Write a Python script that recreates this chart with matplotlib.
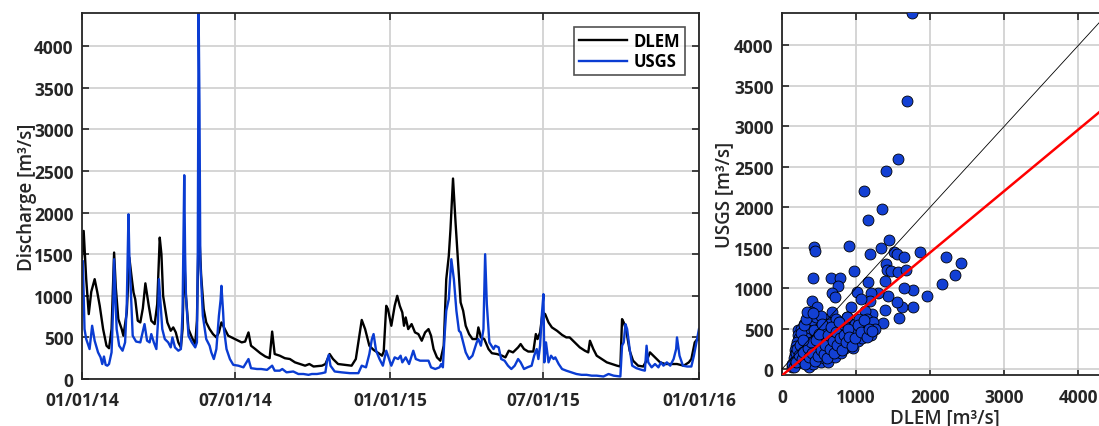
"""Daily discharge: DLEM model vs USGS gauge, time series and scatter."""

import matplotlib
matplotlib.use('Agg')
import matplotlib.pyplot as plt
import matplotlib.dates as mdates
import pandas as pd

plt.rcParams['font.family'] = ['Open Sans', 'DejaVu Sans']

START = pd.Timestamp('2014-01-01')

# DLEM simulated discharge [m3/s], days since 2014-01-01
dlem_day = [0, 2, 5, 8, 11, 15, 18, 21, 25, 29, 32, 35, 38, 40, 43, 47, 49, 53, 56, 59,
            61, 63, 66, 69, 72, 75, 79, 82, 86, 89, 92, 94, 96, 101, 105, 108, 111, 114, 117, 119,
            121, 123, 126, 130, 134, 136, 138, 139, 141, 144, 147, 151, 155, 159, 162, 165, 169, 173, 179, 183,
            189, 193, 197, 200, 205, 211, 217, 222, 225, 228, 234, 240, 246, 252, 258, 264, 269, 274, 284, 288,
            293, 297, 303, 311, 319, 324, 331, 335, 340, 345, 351, 355, 357, 360, 362, 366, 370, 373, 376, 379,
            381, 383, 386, 390, 394, 398, 402, 406, 410, 413, 416, 420, 424, 428, 431, 434, 436, 439, 442, 445,
            448, 451, 454, 458, 462, 467, 469, 472, 476, 481, 485, 491, 497, 501, 505, 510, 516, 519, 523, 528,
            534, 537, 539, 542, 545, 548, 552, 556, 562, 568, 573, 577, 583, 589, 595, 599, 601, 605, 609, 615,
            621, 627, 633, 637, 639, 641, 644, 648, 652, 658, 664, 669, 672, 676, 680, 684, 690, 698, 704, 712,
            718, 721, 725, 728, 730]
dlem_q = [1450, 1780, 1200, 780, 1050, 1200, 1050, 880, 600, 400, 370, 600, 1520, 1100, 720, 600, 520, 800, 1460, 1200,
          1040, 960, 700, 680, 850, 1150, 880, 700, 660, 900, 1700, 1500, 1000, 680, 580, 620, 560, 440, 380, 600,
          1450, 1000, 600, 500, 420, 700, 1800, 1700, 1240, 840, 680, 600, 540, 500, 560, 680, 600, 520, 490, 470,
          440, 450, 560, 400, 360, 310, 270, 250, 570, 300, 280, 250, 240, 200, 180, 160, 180, 150, 160, 180,
          300, 240, 180, 170, 160, 240, 710, 600, 400, 350, 310, 280, 330, 880, 840, 640, 880, 1000, 880, 800,
          640, 740, 600, 660, 560, 540, 460, 560, 600, 520, 360, 260, 220, 400, 1200, 1480, 1800, 2410, 1880, 1400,
          920, 820, 640, 540, 480, 480, 620, 500, 480, 360, 310, 300, 280, 260, 340, 320, 380, 420, 360, 330,
          330, 540, 480, 560, 800, 780, 680, 620, 580, 530, 500, 500, 440, 380, 340, 320, 460, 360, 280, 240,
          200, 180, 160, 150, 720, 680, 580, 340, 220, 160, 150, 240, 320, 280, 240, 200, 180, 180, 180, 160,
          200, 240, 440, 480, 470]

# USGS observed discharge [m3/s], days since 2014-01-01
usgs_day = [0, 1, 3, 5, 7, 9, 12, 15, 19, 22, 24, 26, 28, 30, 32, 35, 37, 38, 40, 41,
            44, 48, 51, 53, 55, 56, 58, 60, 64, 69, 74, 77, 80, 82, 85, 88, 90, 91, 93, 95,
            98, 102, 105, 107, 110, 114, 117, 119, 121, 122, 123, 126, 130, 134, 136, 137, 138, 139, 140, 143,
            147, 151, 153, 156, 159, 162, 164, 165, 167, 168, 171, 175, 179, 185, 191, 197, 200, 207, 212, 219,
            225, 228, 234, 237, 242, 250, 256, 262, 268, 272, 278, 284, 288, 290, 292, 294, 299, 307, 317, 327,
            331, 336, 340, 343, 345, 348, 352, 356, 360, 362, 366, 370, 374, 377, 379, 383, 387, 392, 395, 400,
            406, 410, 413, 418, 423, 425, 427, 429, 431, 434, 437, 440, 443, 446, 448, 451, 454, 458, 462, 467,
            469, 472, 475, 477, 479, 482, 487, 489, 493, 496, 500, 504, 508, 512, 516, 519, 523, 527, 532, 535,
            538, 540, 542, 544, 546, 547, 549, 552, 555, 558, 560, 564, 568, 573, 579, 585, 591, 597, 603, 609,
            617, 623, 629, 637, 639, 641, 643, 645, 648, 651, 656, 662, 666, 668, 670, 674, 678, 682, 685, 688,
            692, 696, 700, 703, 704, 707, 711, 716, 721, 724, 727, 730]
usgs_q = [1420, 1420, 600, 480, 420, 360, 640, 460, 320, 260, 180, 270, 170, 160, 180, 320, 900, 1440, 900, 600,
          400, 340, 440, 900, 1980, 1500, 1000, 520, 450, 440, 660, 460, 440, 540, 440, 360, 700, 1200, 900, 600,
          480, 440, 380, 500, 380, 340, 360, 800, 2450, 1500, 1000, 520, 440, 380, 440, 1500, 4400, 3300, 1400, 760,
          480, 400, 320, 240, 360, 760, 950, 1120, 800, 600, 360, 240, 170, 160, 140, 240, 130, 120, 120, 110,
          160, 100, 100, 120, 80, 90, 60, 60, 50, 60, 60, 70, 80, 220, 290, 160, 90, 80, 70, 70,
          160, 140, 300, 480, 540, 340, 240, 160, 340, 280, 160, 260, 240, 280, 200, 260, 180, 340, 240, 220,
          220, 220, 140, 120, 140, 180, 140, 520, 820, 960, 1440, 1200, 820, 580, 560, 440, 320, 240, 280, 440,
          480, 400, 600, 1500, 900, 440, 360, 400, 380, 240, 220, 160, 120, 160, 240, 200, 120, 140, 160, 280,
          360, 240, 400, 760, 1020, 200, 440, 200, 280, 240, 260, 180, 120, 100, 80, 60, 50, 50, 40, 40,
          30, 60, 40, 30, 400, 440, 660, 600, 360, 160, 130, 110, 100, 400, 200, 140, 180, 140, 200, 160,
          200, 160, 240, 360, 500, 280, 160, 150, 150, 280, 440, 600]

# scatter: same-day pairs (DLEM, USGS) [m3/s]
scatter_dlem = [1760, 1680, 1570, 1400, 1110, 1165, 1345, 1445, 1335, 910, 430, 450, 1190, 1510, 1545,
                1645, 1860, 2210, 2410, 2335, 2160, 1950, 1770, 1650, 1765, 1620, 1555, 1575, 1365, 1390,
                1435, 1300, 1165, 970, 1400, 1420, 1475, 1570, 1675, 1390, 415, 655, 785, 760, 675,
                710, 400, 475, 385, 1010, 925, 1200, 1190, 1060, 1220, 1195, 875, 1120,
                150, 170, 180, 190, 200, 210, 220, 230, 240, 250, 260, 270, 280, 290, 300,
                310, 320, 330, 340, 350, 360, 370, 380, 390, 400, 410, 420, 430, 440, 450,
                460, 470, 480, 490, 500, 510, 520, 530, 540, 550, 560, 570, 580, 590, 600,
                610, 620, 630, 640, 650, 660, 670, 680, 690, 700, 710, 720, 730, 740, 750,
                760, 770, 780, 790, 800, 820, 840, 850, 870, 880, 900, 920, 940, 960, 980,
                1000, 1020, 1040, 1060, 1080, 1100, 1120, 1150, 1180, 1200, 1230, 1250,
                210, 215, 230, 200, 190, 180, 170, 160, 130, 250, 270, 300, 350, 400, 460, 520,
                140, 160, 175, 185, 195, 205, 225, 245, 265, 285, 305, 325, 345, 365, 385,
                405, 425, 445, 465, 485, 505, 525, 545, 565, 585, 605, 625, 645, 665, 685,
                705, 725, 745, 765, 785, 805, 830, 860, 890, 910, 950, 990, 1030, 1070, 1110,
                1140, 1170, 1210, 260, 280, 300, 320, 340, 420]
scatter_usgs = [4400, 3310, 2590, 2450, 2200, 1845, 1975, 1590, 1500, 1525, 1510, 1455, 1415, 1440, 1415,
                1385, 1440, 1385, 1315, 1165, 1050, 905, 975, 995, 760, 760, 830, 625, 565, 730,
                905, 945, 1070, 1215, 1295, 1225, 1215, 1200, 1225, 1090, 1130, 1130, 1130, 1030, 945,
                885, 845, 760, 700, 955, 760, 935, 845, 865, 680, 515, 640, 720,
                40, 80, 120, 60, 150, 100, 200, 260, 140, 320, 80, 180, 400, 240, 120,
                460, 300, 200, 90, 360, 30, 250, 520, 160, 420, 310, 60, 200, 560, 380,
                120, 280, 460, 220, 600, 340, 90, 160, 500, 260, 420, 130, 620, 330, 200,
                480, 90, 560, 280, 380, 180, 700, 440, 250, 520, 340, 150, 620, 400, 230,
                480, 300, 580, 200, 420, 350, 540, 260, 460, 640, 300, 500, 380, 260, 560,
                440, 340, 620, 500, 380, 560, 460, 620, 520, 420, 580, 500,
                480, 420, 380, 330, 280, 230, 180, 140, 20, 500, 440, 560, 480, 600, 640, 660,
                60, 30, 100, 200, 90, 250, 170, 300, 120, 210, 60, 380, 260, 150, 330,
                200, 480, 100, 360, 160, 430, 240, 560, 180, 300, 140, 420, 250, 520, 340,
                200, 460, 300, 580, 380, 240, 420, 330, 500, 400, 280, 380, 540, 460, 600,
                400, 500, 470, 450, 360, 540, 620, 700, 690]

# linear fit of USGS on DLEM
fit_slope = 0.76
fit_intercept = -80

BLUE = '#0a3cd2'
DARK = '#262626'
GRID = '#d2d2d2'


def style_axes(ax):
    for side in ax.spines.values():
        side.set_color(DARK)
        side.set_linewidth(1.3)
    ax.tick_params(direction='in', which='both', top=True, right=True, length=5,
                   width=1.2, color=DARK, labelcolor=DARK, labelsize=12.5, pad=6)
    ax.tick_params(axis='x', pad=9)
    for lab in ax.get_xticklabels() + ax.get_yticklabels():
        lab.set_fontweight('bold')
    ax.grid(True, color=GRID, linewidth=1.3)
    ax.set_axisbelow(True)


fig = plt.figure(figsize=(10.99, 4.27), dpi=100)

# time series
ax1 = fig.add_axes([0.0746, 0.1101, 0.5614, 0.8571])
t_dlem = START + pd.to_timedelta(dlem_day, unit='D')
t_usgs = START + pd.to_timedelta(usgs_day, unit='D')
ax1.plot(t_dlem, dlem_q, color='black', linewidth=1.7, label='DLEM')
ax1.plot(t_usgs, usgs_q, color=BLUE, linewidth=1.7, label='USGS')
ax1.set_xlim(pd.Timestamp('2014-01-01'), pd.Timestamp('2016-01-01'))
ax1.set_ylim(0, 4400)
ax1.set_yticks(range(0, 4001, 500))
ticks = pd.to_datetime(['2014-01-01', '2014-07-01', '2015-01-01', '2015-07-01', '2016-01-01'])
ax1.set_xticks(ticks)
ax1.xaxis.set_major_formatter(mdates.DateFormatter('%m/%d/%y'))
ax1.set_ylabel('Discharge [m³/s]', fontsize=13.5, fontweight='semibold', color=DARK, labelpad=-2)
style_axes(ax1)
leg = ax1.legend(loc='upper right', bbox_to_anchor=(0.978, 0.962), frameon=True, fancybox=False,
                 edgecolor=DARK, handlelength=2.9, borderpad=0.3, labelspacing=0.15,
                 handletextpad=0.4, borderaxespad=0.0, prop={'weight': 'bold', 'size': 12})
leg.get_frame().set_linewidth(1.2)

# scatter
ax2 = fig.add_axes([0.7116, 0.1194, 0.2966, 0.8478])
ax2.scatter(scatter_dlem, scatter_usgs, s=62, color='#1340d4', edgecolors='black',
            linewidths=0.6, zorder=3)
ax2.axline((0, 0), slope=1, color='black', linewidth=0.6, zorder=4)
ax2.axline((0, fit_intercept), slope=fit_slope, color='#ff0000', linewidth=1.8, zorder=5)
ax2.set_xlim(0, 4400)
ax2.set_ylim(-75, 4400)
ax2.set_xticks(range(0, 4001, 1000))
ax2.set_yticks(range(0, 4001, 500))
ax2.set_xlabel('DLEM [m³/s]', fontsize=13.5, fontweight='semibold', color=DARK, labelpad=1)
ax2.set_ylabel('USGS [m³/s]', fontsize=13.5, fontweight='semibold', color=DARK, labelpad=0)
style_axes(ax2)

fig.savefig('out.png', dpi=100)
